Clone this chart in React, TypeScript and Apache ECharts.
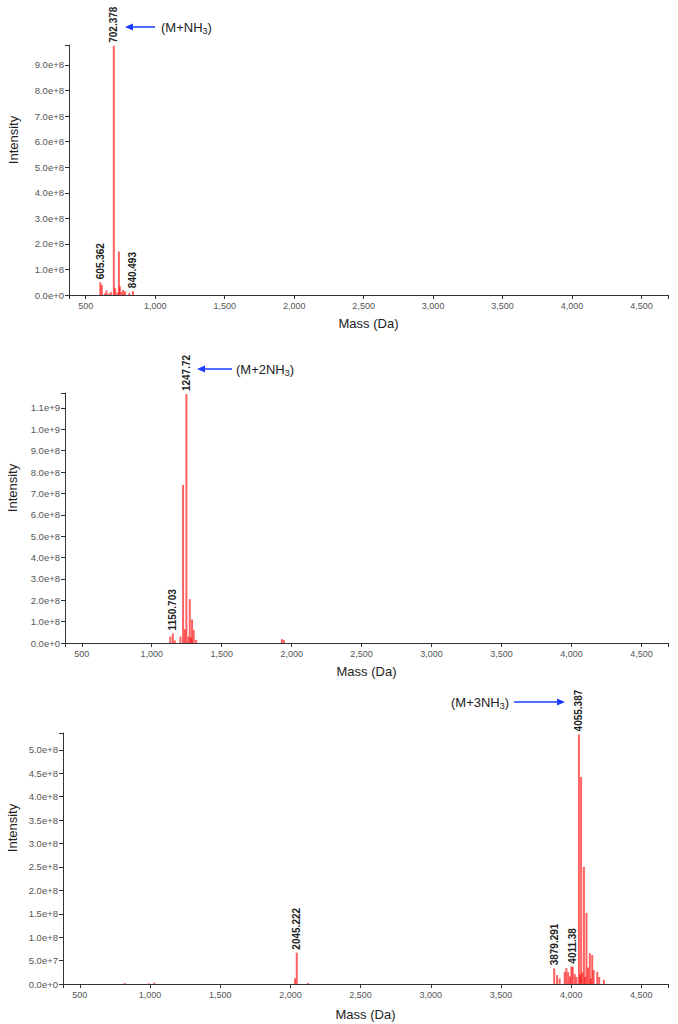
import React, { useEffect, useRef } from 'react';
import * as echarts from 'echarts';

// Panel 1
const masses1 = [605.362, 616, 638, 650, 667, 681, 702.378, 712, 728, 739, 746, 758, 770, 783, 814, 840.493];
const intens1 = [5.0e7, 3.9e7, 6e6, 1.8e7, 5e6, 1.2e7, 9.75e8, 2.6e7, 1.0e7, 1.7e8, 3.4e7, 1.2e7, 2.0e7, 1.4e7, 8e6, 1.5e7];
const labels1 = [605.362, 702.378, 840.493];

// Panel 2
const masses2 = [1133, 1150.703, 1165, 1205, 1224, 1237, 1247.72, 1262, 1272, 1282, 1288, 1300, 1317, 1930, 1945];
const intens2 = [3.0e7, 4.5e7, 1.2e7, 3.0e7, 7.4e8, 6.5e7, 1.165e9, 3.0e7, 2.05e8, 2.5e7, 1.1e8, 6.0e7, 1.5e7, 1.8e7, 1.3e7];
const labels2 = [1150.703, 1247.72];

// Panel 3
const masses3 = [820, 990, 1030, 2033, 2045.222, 2125, 3879.291, 3900, 3918, 3954, 3966, 3979, 3991, 4002, 4011.38, 4026, 4038, 4055.387, 4064, 4071, 4080, 4091, 4100, 4109, 4120, 4133, 4140, 4150, 4160, 4186, 4200, 4233];
const intens3 = [2e6, 1.5e6, 3e6, 1.2e7, 6.7e7, 2e6, 3.35e7, 1.9e7, 1.2e7, 2.6e7, 3.4e7, 2.5e7, 1.6e7, 3.7e7, 3.7e7, 2.1e7, 1.5e7, 5.33e8, 2.0e7, 4.42e8, 2.5e7, 2.5e8, 1.5e7, 1.52e8, 3.5e7, 6.6e7, 1.2e7, 6.2e7, 3.0e7, 2.6e7, 1.5e7, 9e6];
const labels3 = [2045.222, 3879.291, 4011.38, 4055.387];

const yMax = [9.78e8, 1.17e9, 5.36e8];
const yStep = [1e8, 1e8, 5e7];
const xMin = 380;
const xMax = 4690;

const FONT = 'Liberation Sans, Arial, sans-serif';

export default function App() {
  const ref = useRef<HTMLDivElement>(null);
  useEffect(() => {
    document.body.style.margin = '0';
    const chart = echarts.init(ref.current!, null, { renderer: 'svg' });
    const grids = [
      { left: 69, top: 45, right: 10, height: 250 },
      { left: 65, top: 393, right: 10, height: 250 },
      { left: 63, top: 733, right: 10, height: 251 },
    ];
    const panels = [
      { m: masses1, v: intens1, l: labels1 },
      { m: masses2, v: intens2, l: labels2 },
      { m: masses3, v: intens3, l: labels3 },
    ];
    const axisLine = { show: true, lineStyle: { color: '#333', width: 1 } };
    const axisTick = { show: true, length: 4, lineStyle: { color: '#333' } };
    const xAxis = grids.map((_, i) => ({
      type: 'value',
      gridIndex: i,
      min: xMin,
      max: xMax,
      splitNumber: 9,
      minInterval: 500,
      maxInterval: 500,
      axisLine,
      axisTick,
      splitLine: { show: false },
      axisLabel: {
        fontSize: 9,
        color: '#555',
        fontFamily: FONT,
        margin: 6,
        formatter: (v: number) => (v % 500 === 0 ? v.toLocaleString('en-US') : ''),
      },
      name: 'Mass (Da)',
      nameLocation: 'middle',
      nameGap: i === 2 ? 24 : 22,
      nameTextStyle: { fontSize: 13, color: '#222', fontFamily: FONT },
    }));
    const yAxis = grids.map((_, i) => ({
      type: 'value',
      gridIndex: i,
      min: 0,
      max: yMax[i],
      interval: yStep[i],
      axisLine,
      axisTick,
      splitLine: { show: false },
      axisLabel: {
        fontSize: 9.5,
        color: '#555',
        fontFamily: FONT,
        margin: 5,
        formatter: (v: number) => {
          const r = v / yStep[i];
          return Math.abs(r - Math.round(r)) < 1e-6 ? v.toExponential(1) : '';
        },
      },
    }));
    const series = panels.map((p, i) => ({
      type: 'bar',
      xAxisIndex: i,
      yAxisIndex: i,
      barWidth: 2,
      itemStyle: { color: 'rgba(255,0,0,0.62)' },
      label: {
        show: false,
        position: 'top',
        rotate: 90,
        align: 'left',
        verticalAlign: 'middle',
        distance: 3,
        fontSize: 10,
        fontWeight: 'bold',
        color: '#222',
        fontFamily: FONT,
        formatter: (d: any) => String(d.value[0]),
      },
      data: p.m.map((m, k) => ({
        value: [m, p.v[k]],
        label: { show: p.l.includes(m) },
      })),
    }));

    const blue = '#1a3cff';
    const arrow = (x1: number, x2: number, y: number) => {
      const dir = x2 > x1 ? 1 : -1;
      return [
        { type: 'line', shape: { x1, y1: y, x2: x2 - dir * 6, y2: y }, style: { stroke: blue, lineWidth: 1.5 } },
        {
          type: 'polygon',
          shape: { points: [[x2, y], [x2 - dir * 8, y - 3.5], [x2 - dir * 8, y + 3.5]] },
          style: { fill: blue },
        },
      ];
    };
    const annot = (x: number, y: number, pre: string) => ({
      type: 'text',
      x,
      y,
      style: {
        text: `{a|${pre}}{s|3}{a|)}`,
        textVerticalAlign: 'middle',
        verticalAlign: 'middle',
        rich: {
          a: { fontSize: 13, fill: '#222', color: '#222', fontFamily: FONT, lineHeight: 16 },
          s: { fontSize: 9, fill: '#222', color: '#222', fontFamily: FONT, lineHeight: 16, padding: [7, 0, 0, 0] },
        },
      },
    });
    const intensity = (x: number, y: number) => ({
      type: 'text',
      x,
      y,
      rotation: Math.PI / 2,
      style: {
        text: 'Intensity',
        fontSize: 13,
        fontFamily: FONT,
        fill: '#222',
        textAlign: 'center',
        align: 'center',
        textVerticalAlign: 'middle',
        verticalAlign: 'middle',
      },
    });

    chart.setOption({
      animation: false,
      backgroundColor: '#fff',
      grid: grids,
      xAxis,
      yAxis,
      series,
      graphic: [
        ...arrow(155, 125, 27),
        annot(161, 27, '(M+NH'),
        ...arrow(232, 197, 369),
        annot(236, 369, '(M+2NH'),
        ...arrow(514, 565, 702),
        annot(451, 702, '(M+3NH'),
        intensity(13, 140),
        intensity(12, 488),
        intensity(12, 828),
      ],
    });
    return () => chart.dispose();
  }, []);
  return <div ref={ref} style={{ width: 678, height: 1024 }} />;
}
